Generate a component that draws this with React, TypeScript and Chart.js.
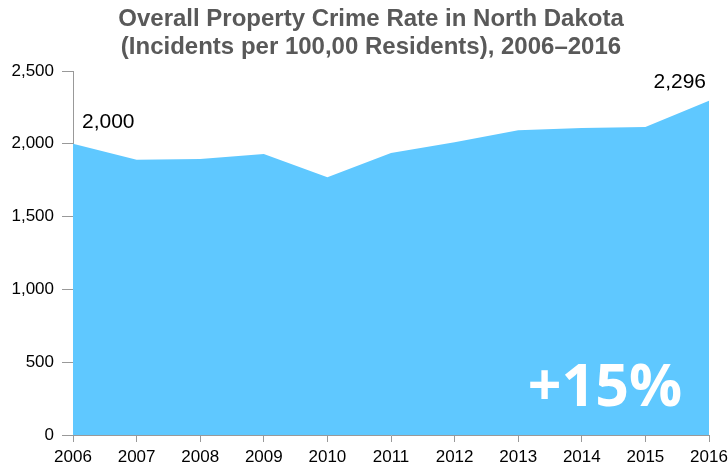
import React, { useEffect, useRef } from "react";
import { Chart, registerables } from "chart.js";

Chart.register(...registerables);

const years = ["2006", "2007", "2008", "2009", "2010", "2011", "2012", "2013", "2014", "2015", "2016"];
const crimeRate = [2000, 1891, 1896, 1930, 1770, 1937, 2010, 2093, 2108, 2115, 2296];
const titleLines = [
  "Overall Property Crime Rate in North Dakota",
  "(Incidents per 100,00 Residents), 2006\u20132016",
];
const changeLabel = "+15%";
const FONT = "Arial, 'Liberation Sans', sans-serif";

const labelsPlugin = {
  id: "customLabels",
  afterDraw(chart: any) {
    const { ctx, chartArea } = chart;
    const meta = chart.getDatasetMeta(0);
    const first = meta.data[0];
    const last = meta.data[meta.data.length - 1];
    const fmt = (v: number) => v.toLocaleString("en-US");
    ctx.save();
    // title
    ctx.fillStyle = "#595959";
    ctx.font = `bold 24px ${FONT}`;
    ctx.textAlign = "center";
    ctx.textBaseline = "middle";
    ctx.fillText(titleLines[0], 371, 19);
    ctx.fillText(titleLines[1], 371, 47);
    // data labels
    ctx.fillStyle = "#000";
    ctx.font = `21px ${FONT}`;
    ctx.textAlign = "left";
    ctx.fillText(fmt(crimeRate[0]), first.x + 9, first.y - 22);
    ctx.textAlign = "right";
    ctx.fillText(fmt(crimeRate[crimeRate.length - 1]), last.x - 3, last.y - 18);
    ctx.fillStyle = "#ffffff";
    ctx.font = `bold 59px 'Open Sans', sans-serif`;
    ctx.textAlign = "center";
    ctx.fillText(changeLabel, chartArea.right - 104, chartArea.bottom - 46);
    ctx.restore();
  },
};

export default function App() {
  const ref = useRef<HTMLCanvasElement>(null);
  useEffect(() => {
    document.body.style.margin = "0";
    const chart = new Chart(ref.current as HTMLCanvasElement, {
      type: "line",
      data: {
        labels: years,
        datasets: [
          {
            data: crimeRate,
            fill: "origin",
            backgroundColor: "#5FC8FF",
            borderWidth: 0,
            pointRadius: 0,
            tension: 0,
          },
        ],
      },
      options: {
        animation: false,
        responsive: false,
        maintainAspectRatio: false,
        layout: { padding: { left: 0, right: 19, top: 71, bottom: 0 } },
        plugins: {
          legend: { display: false },
          tooltip: { enabled: false },
          title: { display: false },
        },
        scales: {
          x: {
            offset: false,
            grid: { display: true, drawOnChartArea: false, drawTicks: true, tickLength: 7, color: "#999", offset: false },
            border: { display: true, color: "#999" },
            ticks: { color: "#000", font: { family: FONT, size: 17 }, maxRotation: 0, autoSkip: false, padding: 5 },
            afterFit: (s: any) => {
              s.height = 32;
              s.paddingLeft = 0;
              s.paddingRight = 0;
            },
          },
          y: {
            min: 0,
            max: 2500,
            grid: { display: true, drawOnChartArea: false, drawTicks: true, tickLength: 11, color: "#999" },
            border: { display: true, color: "#999" },
            ticks: {
              stepSize: 500,
              color: "#000",
              font: { family: FONT, size: 17 },
              padding: 8,
              callback: (v: any) => Number(v).toLocaleString("en-US"),
            },
            afterFit: (s: any) => { s.width = 73; },
          },
        },
      },
      plugins: [labelsPlugin],
    });
    return () => chart.destroy();
  }, []);
  return (
    <div style={{ position: "relative", width: 728, height: 467 }}>
      <canvas ref={ref} width={728} height={467} />
    </div>
  );
}
